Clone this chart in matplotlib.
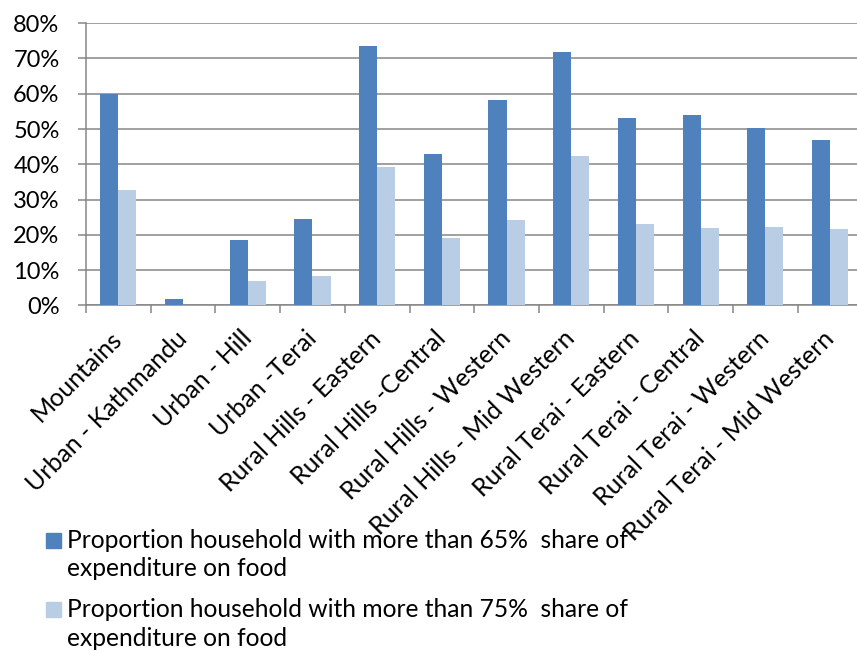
import matplotlib
matplotlib.use("Agg")
import matplotlib.pyplot as plt
from matplotlib.patches import Rectangle
import numpy as np

plt.rcParams['font.family'] = ['Lato', 'DejaVu Sans']

categories = ["Mountains", "Urban - Kathmandu", "Urban - Hill", "Urban -Terai",
              "Rural Hills - Eastern", "Rural Hills -Central", "Rural Hills - Western",
              "Rural Hills - Mid Western", "Rural Terai - Eastern", "Rural Terai - Central",
              "Rural Terai - Western", "Rural Terai - Mid Western"]
share65 = [60.0, 1.8, 18.6, 24.6, 73.4, 42.9, 58.3, 71.7, 53.2, 54.1, 50.2, 46.9]
share75 = [32.7, 0.0, 7.0, 8.3, 39.3, 19.0, 24.2, 42.3, 23.1, 21.9, 22.3, 21.8]
series_labels = [["Proportion household with more than 65%  share of", "expenditure on food"],
                 ["Proportion household with more than 75%  share of", "expenditure on food"]]
yticks = [0, 10, 20, 30, 40, 50, 60, 70, 80]

dark = "#4F81BD"
light = "#B9CDE5"
grid_c = "#868686"
W, H = 857, 653

fig = plt.figure(figsize=(W / 100, H / 100), dpi=100)
ax = fig.add_axes([86 / W, (H - 305.5) / H, 776.4 / W, 282.3 / H])

x = np.arange(len(categories))
bw = 0.28
ax.bar(x - bw / 2, share65, width=bw, color=dark, zorder=3)
ax.bar(x + bw / 2, share75, width=bw, color=light, zorder=3)

ax.set_xlim(-0.5, len(categories) - 0.5)
ax.set_ylim(0, 80)
ax.set_yticks(yticks)
ax.set_yticklabels([f"{v}%" for v in yticks], fontsize=17)
ax.yaxis.grid(True, color=grid_c, linewidth=1.1)
ax.set_axisbelow(True)

ax.set_xticks(np.arange(len(categories) + 1) - 0.5, minor=False)
ax.set_xticklabels([])
ax.set_xticks(x, minor=True)
ax.set_xticklabels(categories, minor=True, rotation=45, ha='right', va='center',
                   rotation_mode='anchor', fontsize=18)
ax.tick_params(axis='x', which='minor', length=0, pad=21)
ax.tick_params(axis='x', which='major', length=6, width=1.1, color=grid_c, direction='out')
ax.tick_params(axis='y', length=6, width=1.1, color=grid_c, direction='out', pad=13)

for s in ['top', 'right']:
    ax.spines[s].set_visible(False)
for s in ['left', 'bottom']:
    ax.spines[s].set_color(grid_c)
    ax.spines[s].set_linewidth(1.1)

# legend (drawn manually, one baseline per line)
leg_base = [[548, 576], [617, 646]]
for lines, col, bases in zip(series_labels, [dark, light], leg_base):
    b0 = bases[0]
    fig.patches.append(Rectangle((46 / W, (H - b0) / H), 15 / W, 15 / H,
                                 transform=fig.transFigure, color=col))
    for ln, b in zip(lines, bases):
        fig.text(67 / W, (H - b) / H, ln, fontsize=17.7, va='baseline', ha='left',
                 transform=fig.transFigure)

fig.savefig("out.png", dpi=100)
